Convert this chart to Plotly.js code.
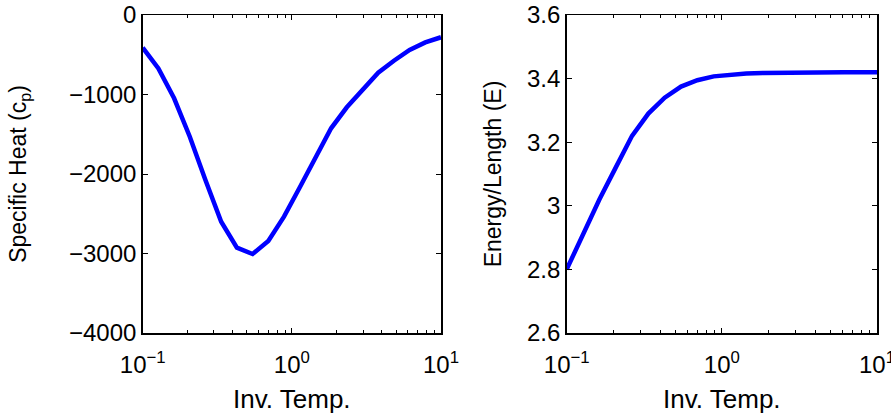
<!DOCTYPE html>
<html>
<head>
<meta charset="utf-8">
<script src="https://cdn.plot.ly/plotly-3.0.1.min.js"></script>
<style>html,body{margin:0;padding:0;background:#fff;}#chart{width:891px;height:414px;}</style>
</head>
<body>
<div id="chart"></div>
<script>
// Inverse temperature samples (log spaced)
const invTemp = [0.1, 0.1274, 0.1624, 0.2069, 0.2637, 0.336, 0.4281, 0.5456, 0.6952, 0.8859,
                 1.1288, 1.4384, 1.833, 2.336, 2.976, 3.793, 4.833, 6.158, 7.848, 10];
// Specific heat c_p
const specificHeat = [-411, -671, -1048, -1531, -2080, -2600, -2927, -3006, -2843, -2537,
                      -2170, -1790, -1425, -1161, -943, -726, -575, -440, -345, -280];
// Energy per length E
const energyLength = [2.80, 2.91, 3.02, 3.12, 3.22, 3.29, 3.34, 3.375, 3.395, 3.407,
                      3.413, 3.416, 3.418, 3.419, 3.419, 3.42, 3.42, 3.42, 3.42, 3.42];
// Axis ticks
const xTickVals = [0.1, 1, 10];
const xTickText = ['10<sup>\u22121</sup>', '10<sup>0</sup>', '10<sup>1</sup>'];
const xMinorVals = [0.2,0.3,0.4,0.5,0.6,0.7,0.8,0.9,2,3,4,5,6,7,8,9];
const yLeftTicks = [-4000, -3000, -2000, -1000, 0];
const yRightTicks = [2.6, 2.8, 3.0, 3.2, 3.4, 3.6];
const yRightText = ['2.6', '2.8', '3', '3.2', '3.4', '3.6'];

const FONT = 'Liberation Sans, Arial, Helvetica, sans-serif';
const lineStyle = {color: '#0000ff', width: 4.5};

const traces = [
  {x: invTemp, y: specificHeat, type: 'scatter', mode: 'lines', line: lineStyle, xaxis: 'x', yaxis: 'y', hoverinfo: 'skip'},
  {x: invTemp, y: energyLength, type: 'scatter', mode: 'lines', line: lineStyle, xaxis: 'x2', yaxis: 'y2', hoverinfo: 'skip'}
];

function xAxis(domain, anchor) {
  return {
    type: 'log', domain: domain, anchor: anchor, range: [-1, 1],
    tickmode: 'array', tickvals: xTickVals, ticktext: xTickText,
    ticks: 'inside', ticklen: 5, tickwidth: 1, tickcolor: '#000',
    minor: {tickmode: 'array', tickvals: xMinorVals, ticks: 'inside', ticklen: 3, tickwidth: 1, tickcolor: '#000'},
    showline: true, linecolor: '#000', linewidth: 1.5, mirror: 'ticks',
    showgrid: false, zeroline: false, ticklabeloverflow: 'allow', ticklabelstandoff: 10,
    tickfont: {family: FONT, size: 24, color: '#000'},
    title: {text: 'Inv. Temp.', font: {family: FONT, size: 26, color: '#000'}, standoff: 14}
  };
}

const H = 414, W = 891;
const yDom = [1 - 333/H, 1 - 15/H];

function yAxis(range, anchor, vals, text, title, standoff) {
  const a = {
    domain: yDom, anchor: anchor, range: range,
    tickmode: 'array', tickvals: vals,
    ticks: 'inside', ticklen: 5, tickcolor: '#000',
    showline: true, linecolor: '#000', linewidth: 1.5, mirror: 'ticks',
    showgrid: false, zeroline: false, ticklabeloverflow: 'allow',
    tickfont: {family: FONT, size: 24, color: '#000'},
    title: {text: title, font: {family: FONT, size: 23, color: '#000'}, standoff: standoff}
  };
  if (text) a.ticktext = text;
  return a;
}

const layout = {
  width: W, height: H,
  margin: {l: 0, r: 0, t: 0, b: 0},
  paper_bgcolor: '#fff', plot_bgcolor: '#fff',
  showlegend: false,
  xaxis: xAxis([142.7/W, 441/W], 'y'),
  xaxis2: xAxis([566.7/W, 877/W], 'y2'),
  yaxis: yAxis([-4000, 0], 'x', yLeftTicks, null, 'Specific Heat (c<sub>p</sub>)', 36),
  yaxis2: yAxis([2.6, 3.6], 'x2', yRightTicks, yRightText, 'Energy/Length (E)', 19)
};

Plotly.newPlot('chart', traces, layout, {staticPlot: true, displayModeBar: false});
</script>
</body>
</html>
